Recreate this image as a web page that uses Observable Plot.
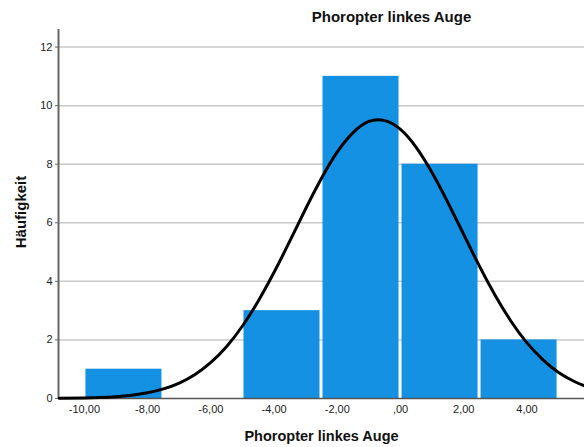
<!DOCTYPE html>
<html>
<head>
<meta charset="utf-8">
<script src="https://cdn.jsdelivr.net/npm/d3@7"></script>
<script src="https://cdn.jsdelivr.net/npm/@observablehq/plot@0.6"></script>
<style>
  html, body { margin: 0; padding: 0; background: #fff; }
  svg { display: block; }
</style>
</head>
<body>
<div id="chart"></div>
<script>
// Histogram bins (width 2.5) and counts
const binStart = [-10, -7.5, -5, -2.5, 0, 2.5];
const binEnd   = [-7.5, -5, -2.5, 0, 2.5, 5];
const counts   = [1, 0, 3, 11, 8, 2];

// Normal curve overlay
const curveX = [-10.8, -10, -9.5, -9, -8.5, -8, -7.5, -7, -6.5, -6, -5.5, -5, -4.5, -4, -3.5, -3, -2.5, -2, -1.5, -1, -0.5, 0, 0.5, 1, 1.5, 2, 2.5, 3, 3.5, 4, 4.5, 5, 5.5, 5.8];
const curveY = [0.006, 0.017, 0.034, 0.063, 0.113, 0.196, 0.328, 0.528, 0.821, 1.231, 1.777, 2.475, 3.33, 4.31, 5.38, 6.48, 7.52, 8.42, 9.08, 9.46, 9.49, 9.19, 8.57, 7.71, 6.69, 5.60, 4.51, 3.51, 2.63, 1.90, 1.33, 0.89, 0.58, 0.44];

const xTicks = [-10, -8, -6, -4, -2, 0, 2, 4];
const yTicks = [0, 2, 4, 6, 8, 10, 12];

const title = "Phoropter linkes Auge";
const xLabel = "Phoropter linkes Auge";
const yLabel = "Häufigkeit";

const bins = binStart.map((s, i) => ({x1: s, x2: binEnd[i], y: counts[i]}));
const curve = curveX.map((x, i) => ({x, y: curveY[i]}));

const fmt = v => v === 0 ? ",00" : v.toFixed(2).replace(".", ",");
const font = "'Liberation Sans', Arial, sans-serif";

const chart = Plot.plot({
  width: 584,
  height: 447,
  marginLeft: 58,
  marginRight: 0,
  marginTop: 29,
  marginBottom: 49,
  style: {fontFamily: font, background: "#fff", overflow: "visible"},
  x: {domain: [-10.82, 5.82]},
  y: {domain: [0, 12.6]},
  marks: [
    Plot.gridY(yTicks.filter(d => d > 0), {stroke: "#c8c8c8", strokeOpacity: 1, strokeWidth: 1.5}),
    Plot.rectY(bins, {x1: "x1", x2: "x2", y: "y", fill: "#1591e4", insetLeft: 1.5, insetRight: 1.5}),
    Plot.ruleY([0], {stroke: "#555", strokeWidth: 1.5}),
    Plot.ruleX([-10.82], {stroke: "#666", strokeWidth: 2}),
    Plot.line(curve, {x: "x", y: "y", curve: "natural", stroke: "#000", strokeWidth: 3}),
    Plot.axisY(yTicks, {tickSize: 3, tickPadding: 3, fontSize: 11, color: "#222", stroke: "#666", label: null}),
    Plot.axisX(xTicks, {tickSize: 0, tickPadding: 7, tickFormat: fmt, fontSize: 11, color: "#222", label: null}),
    Plot.text([title], {frameAnchor: "top", lineAnchor: "middle", textAnchor: "middle", dx: 70, dy: -12, fontSize: 15, fontWeight: "bold", fill: "#111"}),
    Plot.text([xLabel], {frameAnchor: "bottom", lineAnchor: "middle", textAnchor: "middle", dy: 38, fontSize: 14.5, fontWeight: "bold", fill: "#111"}),
    Plot.text([yLabel], {frameAnchor: "left", lineAnchor: "middle", textAnchor: "middle", dx: -37, dy: -2, rotate: -90, fontSize: 15, fontWeight: "bold", fill: "#111"})
  ]
});
document.getElementById("chart").appendChild(chart);
</script>
</body>
</html>
